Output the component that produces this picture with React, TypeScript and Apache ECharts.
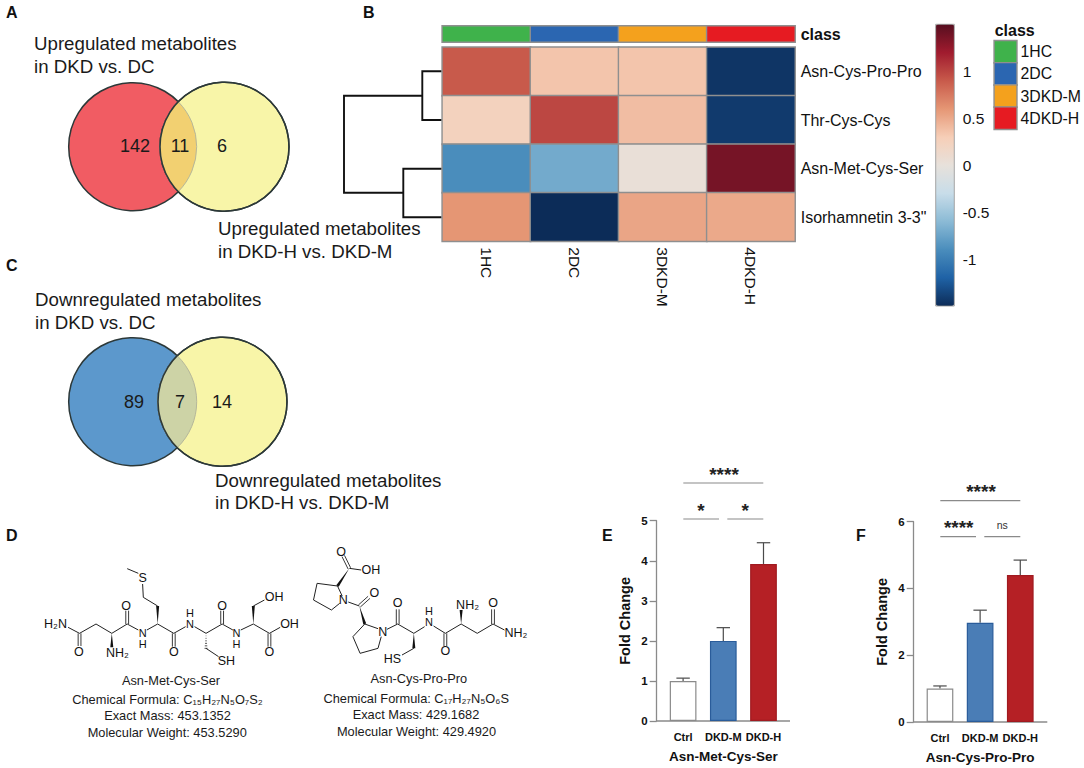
import React, { useEffect, useRef } from "react";
import * as echarts from "echarts";

const FONT = "Liberation Sans";

// Panel B
const classes = ["1HC", "2DC", "3DKD-M", "4DKD-H"];
const metabolites = ["Asn-Cys-Pro-Pro", "Thr-Cys-Cys", "Asn-Met-Cys-Ser", 'Isorhamnetin 3-3"'];
const rowAsnCys = [0.9, 0.35, 0.35, -1.45];
const rowThr = [0.24, 0.99, 0.39, -1.42];
const rowAsnMet = [-0.9, -0.71, 0.03, 1.37];
const rowIso = [0.6, -1.5, 0.52, 0.5];
const heatRows = [rowAsnCys, rowThr, rowAsnMet, rowIso];
const classColors = ["#3FB24B", "#2B66B1", "#F4A11D", "#E61B22"];
const rdBu = ["#0C2C58", "#1F62A6", "#4A8DBC", "#8BBAD5", "#C8DDE9", "#E7E1DB", "#F6CEB7", "#E59674", "#C85A4B", "#A01B2E", "#560E1F"];

// Panels E, F
const barCats = ["Ctrl", "DKD-M", "DKD-H"];
const barColors = ["#FFFFFF", "#4A7DB6", "#B52025"];
const barBorders = ["#8A8A8A", "#2A5C9A", "#A01A20"];
const meansE = [1.0, 2.0, 3.92];
const topsE = [1.07, 2.33, 4.45];
const meansF = [1.0, 2.97, 4.4];
const topsF = [1.08, 3.35, 4.85];

const MOLX = 2.791;
type B = [string, number, number, number, number];
const mol1Bonds: B[] = [
  ["s",190,322,222,340],["d",222,340,222,378],["s",222,340,268,312],["s",268,312,312,340],["w",312,340,312,382],
  ["s",312,340,355,312],["d",355,312,355,272],["s",355,312,386,330],["s",410,330,440,312],["w",440,312,440,258],
  ["s",440,258,400,232],["s",400,232,398,192],["s",386,160,355,146],["s",440,312,485,340],["d",485,340,485,380],
  ["s",485,340,518,320],["s",543,320,575,340],["h",575,340,575,385],["s",575,385,610,410],["s",575,340,620,312],
  ["d",620,312,620,272],["s",620,312,650,330],["s",672,330,707,312],["w",707,312,707,258],["s",707,258,738,240],
  ["s",707,312,752,340],["s",752,340,782,322],["d",752,340,752,380],
];
const mol2Bonds: B[] = [
  ["d",958,108,975,145],["s",975,145,1008,150],["w",975,145,942,198],["s",942,198,885,190],["s",885,190,875,240],
  ["s",875,240,925,270],["s",925,270,948,250],["s",942,198,955,228],["s",972,246,1003,258],["d",1003,258,1030,232],
  ["w",1003,258,1018,312],["s",1018,312,985,350],["s",985,350,1005,400],["s",1005,400,1055,385],["s",1055,385,1064,350],
  ["s",1018,312,1055,326],["s",1080,328,1110,312],["d",1110,312,1110,268],["s",1110,312,1155,340],["w",1155,340,1155,385],
  ["s",1155,385,1122,405],["s",1155,340,1185,320],["s",1210,318,1243,340],["d",1243,340,1243,378],["s",1243,340,1287,312],
  ["w",1287,312,1287,270],["s",1287,312,1332,340],["s",1332,340,1376,312],["d",1376,312,1376,268],["s",1376,312,1408,330],
];
const atomLabels: [string, number, number][] = [
  ["H₂N",155,313],["O",220,395],["NH₂",328,398],["O",352,258],["N\nH",398,356],["S",398,175],["O",485,395],
  ["H\nN",530,295],["SH",632,423],["O",620,258],["N\nH",660,356],["OH",765,230],["OH",808,312],["O",752,395],
  ["O",952,95],["OH",1035,150],["N",958,240],["O",1045,220],["N",1068,335],["O",1110,250],["HS",1095,418],["H\nN",1197,290],
  ["O",1243,392],["NH₂",1305,255],["O",1376,250],["NH₂",1440,338],
];

const txt = (text: string, x: number, y: number, size: number, opt: any = {}) => ({
  type: "text", x, y, silent: true,
  style: { text, fontFamily: FONT, fontSize: size, fontWeight: opt.weight || "normal", fill: opt.fill || "#1a1a1a", align: opt.align || "left", verticalAlign: "middle", lineHeight: opt.lineHeight },
});
const ln = (x1: number, y1: number, x2: number, y2: number, stroke: string, lineWidth: number) => ({
  type: "line", silent: true, shape: { x1, y1, x2, y2 }, style: { stroke, lineWidth },
});

function bondEls(bonds: B[]) {
  const out: any[] = [];
  const X = (v: number) => v / MOLX, Y = (v: number) => v / 3 + 520;
  bonds.forEach(([k, a, b, c, d]) => {
    const x1 = X(a), y1 = Y(b), x2 = X(c), y2 = Y(d);
    const len = Math.hypot(x2 - x1, y2 - y1), nx = -(y2 - y1) / len, ny = (x2 - x1) / len;
    if (k === "s") out.push(ln(x1, y1, x2, y2, "#222", 1));
    if (k === "d") {
      out.push(ln(x1 + nx * 1.4, y1 + ny * 1.4, x2 + nx * 1.4, y2 + ny * 1.4, "#222", 0.9));
      out.push(ln(x1 - nx * 1.4, y1 - ny * 1.4, x2 - nx * 1.4, y2 - ny * 1.4, "#222", 0.9));
    }
    if (k === "w") {
      out.push({ type: "polygon", silent: true, shape: { points: [[x1, y1], [x2 + nx * 1.5, y2 + ny * 1.5], [x2 - nx * 1.5, y2 - ny * 1.5]] }, style: { fill: "#111" } });
    }
    if (k === "h") {
      for (let i = 1; i <= 6; i++) {
        const t = i / 6, w = 1.5 * t;
        const px = x1 + (x2 - x1) * t, py = y1 + (y2 - y1) * t;
        out.push(ln(px - nx * w, py - ny * w, px + nx * w, py + ny * w, "#222", 0.8));
      }
    }
  });
  return out;
}

function venn(kind: string, cx1: number, cx2: number, cy: number, fill1: string, fillLens: string) {
  const stroke = "#2C3838";
  return [
    { type: "circle", silent: true, shape: { cx: cx1, cy, r: 64 }, style: { fill: fill1, stroke, lineWidth: 1.5 } },
    { type: "circle", silent: true, shape: { cx: cx2, cy, r: 64.5 }, style: { fill: "#F8F5A8", stroke, lineWidth: 1.5 } },
    { type: kind, x: 0, y: 0, silent: true, style: { fill: fillLens, stroke: "#B5B79A", lineWidth: 1 } },
    { type: "circle", silent: true, shape: { cx: cx2, cy, r: 64.5 }, style: { fill: "none", stroke, lineWidth: 1.5 } },
  ];
}

function barAxes(i: number, name: string, max: number, interval: number, off: number, gap: number) {
  const axisLabel = { fontFamily: FONT, fontWeight: "bold", color: "#111", fontSize: 11 };
  return {
    x: {
      type: "category", gridIndex: i, data: barCats, name, nameLocation: "middle", nameGap: 28,
      nameTextStyle: { fontFamily: FONT, fontWeight: "bold", fontSize: 13.5, color: "#111" },
      axisLine: { show: false }, axisTick: { alignWithLabel: true, length: 7, lineStyle: { color: "#8A8A8A", width: 1.3 } },
      axisLabel: { ...axisLabel, margin: 10, interval: 0 },
    },
    y: {
      type: "value", gridIndex: i, min: 0, max, interval, offset: off, name: "Fold Change", nameLocation: "middle", nameGap: gap,
      nameTextStyle: { fontFamily: FONT, fontWeight: "bold", fontSize: 14.5, color: "#111" },
      splitLine: { show: false }, axisLine: { show: true, lineStyle: { color: "#8A8A8A", width: 1.3 } },
      axisTick: { show: true, length: 7, lineStyle: { color: "#8A8A8A", width: 1.3 } },
      axisLabel: { ...axisLabel, fontSize: 11.5, margin: 9 },
    },
  };
}

const barData = (vals: number[]) => vals.map((value, i) => ({ value, itemStyle: { color: barColors[i], borderColor: barBorders[i], borderWidth: 1.2 } }));

function errSeries(axis: number, means: number[], tops: number[]) {
  return {
    type: "custom", xAxisIndex: axis, yAxisIndex: axis, silent: true, z: 1,
    data: means.map((m, i) => [i, m, tops[i]]),
    encode: { x: 0, y: [1, 2] },
    renderItem: (_: any, api: any) => {
      const a = api.coord([api.value(0), api.value(1)]);
      const b = api.coord([api.value(0), api.value(2)]);
      const style = { stroke: "#4A4A4A", lineWidth: 1.2 };
      return {
        type: "group",
        children: [
          { type: "line", shape: { x1: a[0], y1: a[1], x2: b[0], y2: b[1] }, style },
          { type: "line", shape: { x1: a[0] - 6.7, y1: b[1], x2: a[0] + 6.7, y2: b[1] }, style },
        ],
      };
    },
  };
}

const dendro = [
  [[441.7,71.3],[422.3,71.3],[422.3,120],[441.7,120]],
  [[441.7,168.7],[403.3,168.7],[403.3,217.3],[441.7,217.3]],
  [[422.3,95.7],[344,95.7],[344,192.7],[403.3,192.7]],
];

export default function App() {
  const ref = useRef<HTMLDivElement>(null);
  useEffect(() => {
    echarts.graphic.registerShape("lensA", echarts.graphic.extendPath("M178.2 101.7 A64.5 64.5 0 0 0 178.2 191.7 A64 64 0 0 0 178.2 101.7 Z" as any, {}) as any);
    echarts.graphic.registerShape("lensC", echarts.graphic.extendPath("M177.2 355.7 A64.5 64.5 0 0 0 177.2 447.7 A64 64 0 0 0 177.2 355.7 Z" as any, {}) as any);
    const chart = echarts.init(ref.current!, undefined, { renderer: "svg" });

    const eAxes = barAxes(4, "Asn-Met-Cys-Ser", 5, 1, 6.3, 24);
    const fAxes = barAxes(5, "Asn-Cys-Pro-Pro", 6, 2, 6.2, 24);
    const grey = "#8A8A8A";
    const bold = { weight: "bold", fill: "#111" };
    const star = { align: "center", weight: "bold", fill: "#222" };
    const center = { align: "center" };
    const elements: any[] = [
      txt("A", 6, 12.5, 16, bold),
      txt("B", 363, 12.5, 16, bold),
      txt("C", 6, 265.5, 16, bold),
      txt("D", 6, 535.5, 16, bold),
      txt("E", 602, 535.5, 16, bold),
      txt("F", 856, 535.5, 16, bold),
      ...venn("lensA", 132.7, 224.5, 146.7, "#F15C63", "#F2D071"),
      ...venn("lensC", 132.7, 222.5, 401.7, "#5C98CC", "#CDD3A6"),
      txt("Upregulated metabolites", 34, 43, 18.7),
      txt("in DKD vs. DC", 34, 66, 18.7),
      txt("Upregulated metabolites", 218, 228, 18.7),
      txt("in DKD-H vs. DKD-M", 218, 251, 18.7),
      txt("Downregulated metabolites", 35, 299, 18.7),
      txt("in DKD vs. DC", 35, 322, 18.7),
      txt("Downregulated metabolites", 215, 480, 18.7),
      txt("in DKD-H vs. DKD-M", 215, 502, 18.7),
      txt("142", 135, 145.5, 18, center),
      txt("11", 180, 145.5, 18, center),
      txt("6", 222, 145.5, 18, center),
      txt("89", 134, 401.5, 18, center),
      txt("7", 180, 401.5, 18, center),
      txt("14", 222, 401.5, 18, center),
      ...dendro.map((points) => ({
        type: "polyline", silent: true, shape: { points },
        style: { stroke: "#111", lineWidth: 1.9, fill: "none" },
      })),
      { type: "rect", silent: true, z: 10, shape: { x: 935.7, y: 24.3, width: 18.6, height: 281.7 }, style: { fill: "none", stroke: "#8F8F8F", lineWidth: 0.8 } },
      txt("class", 994.7, 30.7, 16, bold),
      ...bondEls(mol1Bonds),
      ...bondEls(mol2Bonds),
      ...atomLabels.map(([t, x, y]) => {
        const stacked = t.includes("\n");
        return txt(t, x / MOLX, y / 3 + 520, stacked ? 11 : 12.5, { align: "center", fill: "#111", lineHeight: stacked ? 11.5 : undefined });
      }),
      txt("Asn-Met-Cys-Ser", 171, 680, 12.8, center),
      txt("Chemical Formula: C₁₅H₂₇N₅O₇S₂", 167.5, 699.3, 12.8, center),
      txt("Exact Mass: 453.1352", 167.5, 715.7, 12.8, center),
      txt("Molecular Weight: 453.5290", 167.2, 732.3, 12.8, center),
      txt("Asn-Cys-Pro-Pro", 418.8, 678.3, 12.8, center),
      txt("Chemical Formula: C₁₇H₂₇N₅O₆S", 416.2, 698, 12.8, center),
      txt("Exact Mass: 429.1682", 416, 714, 12.8, center),
      txt("Molecular Weight: 429.4920", 416.5, 731, 12.8, center),
      // axis baselines of E and F, which overhang the outer bands
      ln(656.7, 721, 790, 721, grey, 1.3),
      ln(913.7, 722, 1047.3, 722, grey, 1.3),
      // brackets
      ln(683.3, 483, 763.3, 483, grey, 1.2),
      ln(683.3, 519, 719, 519, grey, 1.2),
      ln(727.3, 519, 763.3, 519, grey, 1.2),
      ln(940.3, 500.7, 1020.3, 500.7, grey, 1.2),
      ln(940.3, 536.7, 976, 536.7, grey, 1.2),
      ln(984.3, 536.7, 1020.3, 536.7, grey, 1.2),
      txt("****", 724, 474, 19, star),
      txt("*", 701, 510.5, 19, star),
      txt("*", 745.3, 510.5, 19, star),
      txt("****", 981, 491.5, 19, star),
      txt("****", 958.7, 527.5, 19, star),
      txt("ns", 1002.3, 524.5, 10.5, { align: "center", fill: "#333" }),
    ];

    const heatData: number[][] = [];
    heatRows.forEach((row, r) => row.forEach((v, c) => heatData.push([c, r, v])));
    const label = { fontFamily: FONT, fontSize: 16, color: "#111" };
    const noAxis = { axisLine: { show: false }, axisTick: { show: false } };

    chart.setOption({
      animation: false,
      backgroundColor: "#fff",
      grid: [
        { left: 442.3, top: 47.3, width: 352.7, height: 194 },
        { left: 442.3, top: 26, width: 352.7, height: 16 },
        { left: 994.3, top: 40.7, width: 23, height: 88.6 },
        { left: 935.7, top: 24.3, width: 18.6, height: 281.7 },
        { left: 663, top: 520.7, width: 120.6, height: 200.3 },
        { left: 919.9, top: 521.7, width: 120.45, height: 200.3 },
      ],
      xAxis: [
        { type: "category", gridIndex: 0, data: classes, ...noAxis, axisLabel: { ...label, fontSize: 15.5, rotate: -90, margin: 6, interval: 0 } },
        { type: "category", gridIndex: 1, data: classes, show: false },
        { type: "category", gridIndex: 2, data: ["class"], show: false },
        { type: "category", gridIndex: 3, data: [""], show: false },
        eAxes.x,
        fAxes.x,
      ],
      yAxis: [
        { type: "category", gridIndex: 0, data: metabolites, inverse: true, position: "right", ...noAxis, axisLabel: { ...label, margin: 5.7, interval: 0 } },
        { type: "category", gridIndex: 1, data: ["class"], position: "right", ...noAxis, axisLabel: { ...label, fontWeight: "bold", margin: 5.7 } },
        { type: "category", gridIndex: 2, data: classes, inverse: true, position: "right", ...noAxis, axisLabel: { ...label, fontSize: 15.8, margin: 3.7, interval: 0 } },
        {
          type: "value", gridIndex: 3, position: "right", min: -1.5, max: 1.5, interval: 0.5, ...noAxis, splitLine: { show: false },
          axisLabel: { ...label, fontSize: 15.5, margin: 8.4, formatter: (v: number) => (Math.abs(v) === 1.5 ? "" : String(v)) },
        },
        eAxes.y,
        fAxes.y,
      ],
      visualMap: [
        {
          type: "continuous", seriesIndex: 0, min: -1.5, max: 1.5, calculable: false, text: ["", ""],
          left: 935.7, top: 24.3, itemWidth: 18.6, itemHeight: 281.7, padding: 0, inRange: { color: rdBu },
        },
        {
          type: "piecewise", show: false, seriesIndex: [1, 2], dimension: 2,
          pieces: classColors.map((color, i) => ({ value: i, color })),
        },
      ],
      series: [
        {
          type: "heatmap", xAxisIndex: 0, yAxisIndex: 0, data: heatData, silent: true,
          itemStyle: { borderColor: "#8F8F8F", borderWidth: 1.4 },
        },
        {
          type: "heatmap", xAxisIndex: 1, yAxisIndex: 1, silent: true,
          data: classColors.map((_, i) => [i, 0, i]), itemStyle: { borderColor: "#8F8F8F", borderWidth: 1.4 },
        },
        {
          type: "heatmap", xAxisIndex: 2, yAxisIndex: 2, silent: true,
          data: classColors.map((_, i) => [0, i, i]), itemStyle: { borderColor: "#8F8F8F", borderWidth: 1.4 },
        },
        { type: "bar", xAxisIndex: 4, yAxisIndex: 4, barWidth: 26.7, data: barData(meansE), silent: true, z: 2 },
        errSeries(4, meansE, topsE),
        { type: "bar", xAxisIndex: 5, yAxisIndex: 5, barWidth: 26.7, data: barData(meansF), silent: true, z: 2 },
        errSeries(5, meansF, topsF),
      ],
      graphic: { elements },
    });
    return () => chart.dispose();
  }, []);
  return <div ref={ref} style={{ position: "absolute", left: 0, top: 0, width: 1084, height: 768, background: "#fff" }} />;
}
